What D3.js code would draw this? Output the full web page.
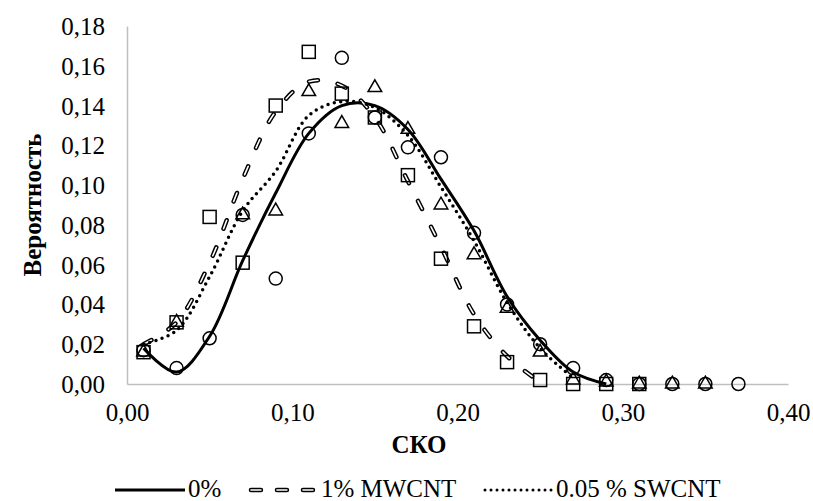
<!DOCTYPE html>
<html>
<head>
<meta charset="utf-8">
<script src="https://cdn.jsdelivr.net/npm/d3@7"></script>
<style>
  body { margin: 0; background: #fff; }
  svg text { font-family: "Liberation Serif", "Times New Roman", serif; fill: #000; }
</style>
</head>
<body>
<div class="container"></div>
<script>
const w = 813;
const h = 501;

// x positions (СКО)
const xVals = [0.01, 0.03, 0.05, 0.07, 0.09, 0.11, 0.13, 0.15, 0.17, 0.19,
               0.21, 0.23, 0.25, 0.27, 0.29, 0.31, 0.33, 0.35, 0.37];

// measured points
const circlePts = [0.017, 0.008, 0.023, 0.085, 0.053, 0.126, 0.164, 0.134, 0.119, 0.114,
                   0.076, 0.040, 0.020, 0.008, 0.002, 0, 0, 0, 0];
const squarePts = [0.016, 0.031, 0.084, 0.061, 0.140, 0.167, 0.146, 0.134, 0.105, 0.063,
                   0.029, 0.011, 0.002, 0, 0, 0, null, null, null];
const trianglePts = [0.016, 0.031, null, 0.085, 0.087, 0.147, 0.131, 0.149, 0.128, 0.090,
                     0.065, 0.038, 0.016, 0.002, 0.001, 0, 0, 0, null];

// fitted curves
const fit0 = [0.018, 0.006, 0.024, 0.062, 0.096, 0.126, 0.140, 0.140, 0.128, 0.103,
              0.077, 0.044, 0.022, 0.006, 0.000];
const fitMW = [0.020, 0.031, 0.061, 0.103, 0.137, 0.152, 0.150, 0.134, 0.102, 0.069,
               0.035, 0.014, 0.001];
const fitSW = [0.020, 0.027, 0.054, 0.087, 0.107, 0.135, 0.142, 0.139, 0.125, 0.099,
               0.072, 0.041, 0.018, 0.003];

const xTicks = [0, 0.1, 0.2, 0.3, 0.4];
const yTicks = [0, 0.02, 0.04, 0.06, 0.08, 0.10, 0.12, 0.14, 0.16, 0.18];
const legendNames = ['0%', '1% MWCNT', '0.05 % SWCNT'];

const fmt = v => v.toFixed(2).replace('.', ',');
const fontSize = '25px';

const svg = d3.select('.container')
    .append('svg')
    .attr('width', w)
    .attr('height', h);

const xScale = d3.scaleLinear().domain([0, 0.4]).range([127, 788]);
const yScale = d3.scaleLinear().domain([0, 0.18]).range([384, 26]);

// axes: gray lines, no tick marks
const xAxis = d3.axisBottom(xScale).tickValues(xTicks).tickFormat(fmt).tickSize(0).tickPadding(19);
const yAxis = d3.axisLeft(yScale).tickValues(yTicks).tickFormat(fmt).tickSize(0).tickPadding(22);

const gx = svg.append('g')
    .attr('transform', `translate(0, ${yScale(0)})`)
    .call(xAxis);
const gy = svg.append('g')
    .attr('transform', `translate(${xScale(0)}, 0)`)
    .call(yAxis);

[gx, gy].forEach(g => {
    g.select('.domain').attr('stroke', '#bfbfbf').attr('stroke-width', 1.5);
    g.selectAll('text')
        .style('font-family', '"Liberation Serif", serif')
        .style('font-size', fontSize)
        .attr('fill', '#000');
});
gx.selectAll('text').attr('dy', '0.71em');
gy.selectAll('text').attr('dy', '0.34em');

// axis titles
svg.append('text')
    .attr('x', 419)
    .attr('y', 453)
    .attr('text-anchor', 'middle')
    .style('font-size', fontSize)
    .style('font-weight', 'bold')
    .text('СКО');

svg.append('text')
    .attr('transform', 'translate(41, 205) rotate(-90)')
    .attr('text-anchor', 'middle')
    .style('font-size', fontSize)
    .style('font-weight', 'bold')
    .text('Вероятность');

// fitted lines
const line = d3.line()
    .x(d => xScale(d[0]))
    .y(d => yScale(d[1]))
    .curve(d3.curveCatmullRom.alpha(0.5));

const toPts = arr => arr.map((v, i) => [xVals[i], v]);

const lines = svg.append('g');

lines.append('path')
    .attr('d', line(toPts(fit0)))
    .attr('fill', 'none')
    .attr('stroke', '#000')
    .attr('stroke-width', 3);

// hollow capsule dashes
lines.append('path')
    .attr('d', line(toPts(fitMW)))
    .attr('fill', 'none')
    .attr('stroke', '#000')
    .attr('stroke-width', 4.5)
    .attr('stroke-linecap', 'round')
    .attr('stroke-dasharray', '9 20');
lines.append('path')
    .attr('d', line(toPts(fitMW)))
    .attr('fill', 'none')
    .attr('stroke', '#fff')
    .attr('stroke-width', 1.6)
    .attr('stroke-linecap', 'round')
    .attr('stroke-dasharray', '9 20');

lines.append('path')
    .attr('d', line(toPts(fitSW)))
    .attr('fill', 'none')
    .attr('stroke', '#000')
    .attr('stroke-width', 3.5)
    .attr('stroke-linecap', 'round')
    .attr('stroke-dasharray', '0 6.5');

// markers
const marks = svg.append('g')
    .attr('fill', 'none')
    .attr('stroke', '#000')
    .attr('stroke-width', 1.5);

marks.selectAll('circle')
    .data(toPts(circlePts).filter(d => d[1] !== null))
    .enter()
    .append('circle')
    .attr('cx', d => xScale(d[0]))
    .attr('cy', d => yScale(d[1]))
    .attr('r', 6.5);

marks.selectAll('rect')
    .data(toPts(squarePts).filter(d => d[1] !== null))
    .enter()
    .append('rect')
    .attr('x', d => xScale(d[0]) - 6.5)
    .attr('y', d => yScale(d[1]) - 6.5)
    .attr('width', 13)
    .attr('height', 13);

const tri = d3.symbol().type(d3.symbolTriangle).size(80);
marks.selectAll('path.tri')
    .data(toPts(trianglePts).filter(d => d[1] !== null))
    .enter()
    .append('path')
    .attr('class', 'tri')
    .attr('d', tri)
    .attr('transform', d => `translate(${xScale(d[0])}, ${yScale(d[1])})`);

// legend
const sampleLen = 70;
const legendStart = 115;
const legend = svg.append('g').attr('transform', 'translate(0, 490)');
const texts = legendNames.map(name => legend.append('text')
    .attr('y', 7)
    .style('font-size', fontSize)
    .text(name));
const widths = texts.map(t => t.node().getComputedTextLength());
// gap between entries so the third sample starts near x = 483
const gap = (483 - legendStart - 2 * (sampleLen + 3) - widths[0] - widths[1]) / 2;
let lx = legendStart;
legendNames.forEach((name, i) => {
    const sample = legend.append('g');
    if (i === 0) {
        sample.append('line').attr('x1', lx).attr('x2', lx + sampleLen)
            .attr('stroke', '#000').attr('stroke-width', 3);
    } else if (i === 1) {
        [['#000', 4.5], ['#fff', 1.6]].forEach(([c, sw]) => {
            sample.append('line').attr('x1', lx + 3).attr('x2', lx + sampleLen - 2)
                .attr('stroke', c).attr('stroke-width', sw)
                .attr('stroke-linecap', 'round').attr('stroke-dasharray', '10 16');
        });
    } else {
        sample.append('line').attr('x1', lx + 2).attr('x2', lx + sampleLen)
            .attr('stroke', '#000').attr('stroke-width', 3)
            .attr('stroke-linecap', 'round').attr('stroke-dasharray', '0 6');
    }
    texts[i].attr('x', lx + sampleLen + 3);
    lx += sampleLen + 3 + widths[i] + gap;
});
</script>
</body>
</html>
